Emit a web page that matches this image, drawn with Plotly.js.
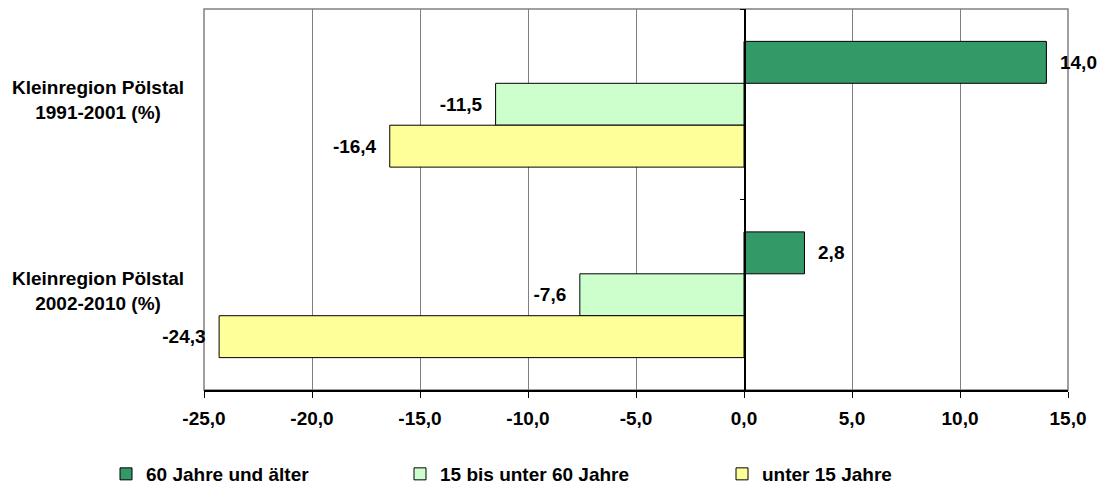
<!DOCTYPE html>
<html>
<head>
<meta charset="utf-8">
<script src="https://cdn.plot.ly/plotly-3.0.1.min.js"></script>
<style>html,body{margin:0;padding:0;background:#fff;}#chart{width:1104px;height:487px;}</style>
</head>
<body>
<div id="chart"></div>
<script>
// ---- data ----
var categories = ['1991-2001', '2002-2010'];
var categoryLabels = ['Kleinregion Pölstal<br>1991-2001 (%)', 'Kleinregion Pölstal<br>2002-2010 (%)'];
var seriesNames = ['60 Jahre und älter', '15 bis unter 60 Jahre', 'unter 15 Jahre'];
var seniors = [14.0, 2.8];
var workingAge = [-11.5, -7.6];
var children = [-16.4, -24.3];
var tickValues = [-25, -20, -15, -10, -5, 0, 5, 10, 15];
var tickLabels = ['-25,0', '-20,0', '-15,0', '-10,0', '-5,0', '0,0', '5,0', '10,0', '15,0'];
var seriesColors = ['#339966', '#CCFFCC', '#FFFF99'];

var FONT = 'Liberation Sans, Arial, sans-serif';
var FS = 19;
var PAD = '\u00a0\u00a0';
function fmt(v) {
  var s = v.toFixed(1).replace('.', ',');
  return v >= 0 ? PAD + s : s + PAD;
}

var seriesValues = [seniors, workingAge, children];
var legendIds = ['legend', 'legend2', 'legend3'];
var traces = seriesValues.map(function (vals, i) {
  return {
    type: 'bar',
    orientation: 'h',
    name: seriesNames[i],
    x: vals,
    y: categories,
    text: vals.map(fmt),
    textposition: 'outside',
    cliponaxis: false,
    constraintext: 'none',
    textfont: {family: FONT, size: FS, color: '#000', weight: 'bold'},
    marker: {color: seriesColors[i], line: {color: '#000', width: 1}},
    legend: legendIds[i],
    hoverinfo: 'x+name'
  };
});

var legendFont = {family: FONT, size: FS, color: '#000', weight: 'bold'};
function mkLegend(px) {
  return {
    x: px / 1104, xref: 'container', xanchor: 'left',
    y: 1 - 474 / 487, yref: 'container', yanchor: 'middle',
    orientation: 'h', font: legendFont, bgcolor: 'rgba(0,0,0,0)',
    borderwidth: 0, itemwidth: 30
  };
}

var annotations = categories.map(function (c, i) {
  return {
    x: -0.1227, xref: 'paper', xanchor: 'center',
    y: c, yref: 'y', yanchor: 'middle', yshift: 4,
    text: categoryLabels[i], showarrow: false, align: 'center',
    font: {family: FONT, size: FS, color: '#000', weight: 'bold'}
  };
});

var layout = {
  width: 1104, height: 487,
  margin: {l: 204, r: 36, t: 9, b: 97, pad: 0},
  paper_bgcolor: '#fff', plot_bgcolor: '#fff',
  barmode: 'group', bargap: 0.34, bargroupgap: 0,
  font: {family: FONT, size: FS, color: '#000'},
  xaxis: {
    range: [-25, 15], tickvals: tickValues, ticktext: tickLabels,
    showgrid: true, gridcolor: '#808080', gridwidth: 1,
    zeroline: false, showline: true, linecolor: '#000', linewidth: 2,
    ticks: 'outside', ticklen: 6, tickcolor: '#000', tickwidth: 1,
    ticklabelstandoff: 4,
    tickfont: {family: FONT, size: FS, color: '#000', weight: 'bold'},
    fixedrange: true
  },
  yaxis: {
    type: 'category', categoryorder: 'array', categoryarray: categories,
    autorange: 'reversed', anchor: 'free', position: 0.625,
    showline: true, linecolor: '#000', linewidth: 1.5,
    ticks: 'outside', tickson: 'boundaries', ticklen: 4, tickcolor: '#000',
    showticklabels: false, showgrid: false, zeroline: false, fixedrange: true
  },
  shapes: [{
    type: 'rect', xref: 'paper', yref: 'paper', x0: 0, x1: 1, y0: 0, y1: 1,
    line: {color: '#808080', width: 1.5}, layer: 'below'
  }],
  annotations: annotations,
  showlegend: true,
  legend: mkLegend(106),
  legend2: mkLegend(400),
  legend3: mkLegend(722)
};

Plotly.newPlot('chart', traces, layout, {displayModeBar: false, staticPlot: true});
</script>
</body>
</html>
